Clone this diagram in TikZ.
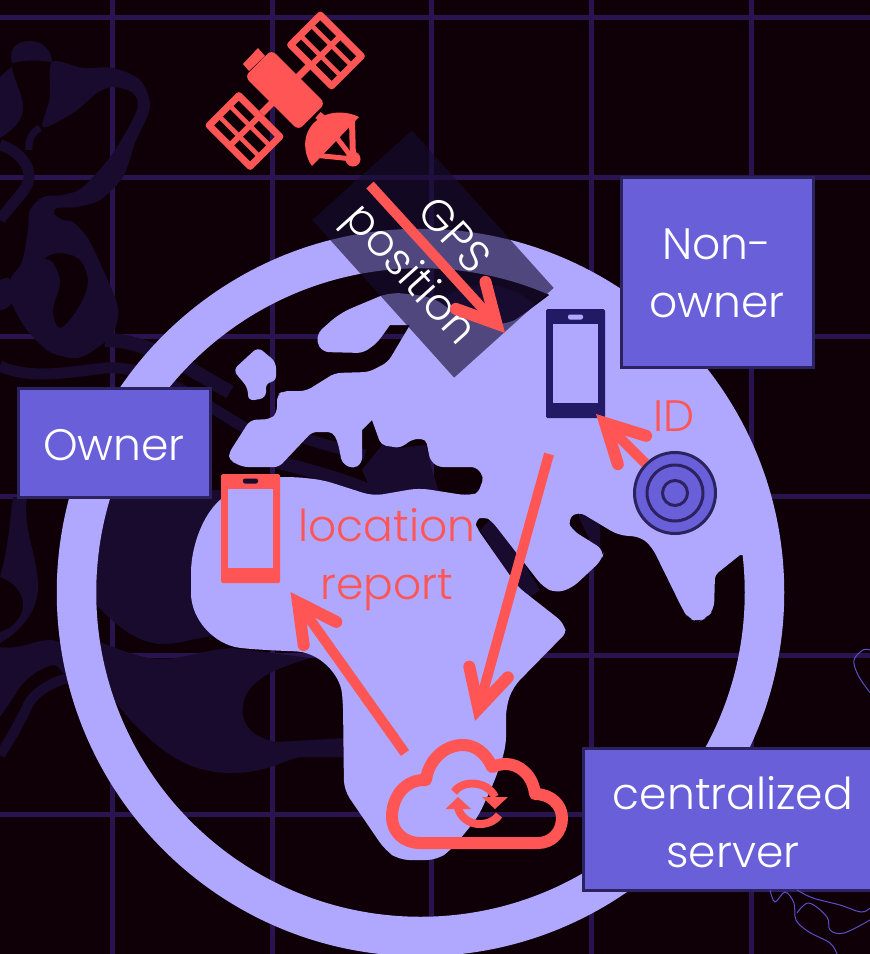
\documentclass[tikz,border=0pt]{standalone}
\usepackage{fontspec}
\setmainfont{Poppins}[UprightFont=* Light]
\usepackage{tikz}
\usetikzlibrary{arrows.meta}

\definecolor{nightbg}{HTML}{0F0008}
\definecolor{gridline}{HTML}{2A144F}
\definecolor{blobdark}{HTML}{190B2E}
\definecolor{landcol}{HTML}{B0A8FF}
\definecolor{coral}{HTML}{FF5555}
\definecolor{boxfill}{HTML}{695FD9}
\definecolor{boxedge}{HTML}{2C2260}
\definecolor{phoneink}{HTML}{231A66}
\definecolor{wisp}{HTML}{5A4FC8}
\definecolor{bandcol}{HTML}{170D31}

\begin{document}
\begin{tikzpicture}[x=1pt, y=-1pt,
    lbl/.style={font=\fontsize{44}{58}\selectfont, align=center, inner sep=0pt},
    box/.style={lbl, rectangle, draw=boxedge, line width=3pt, fill=boxfill, text=white},
    redtext/.style={lbl, text=coral},
    arrow/.style={draw=coral, line width=10pt, -{Straight Barb[length=38pt, width=40pt, line width=12pt, line cap=round, line join=miter]}},
    phone/.style={rectangle, inner sep=0pt, minimum width=59pt, minimum height=109pt, rounded corners=1.5pt},
    screen/.style={rectangle, inner sep=0pt, fill=landcol, minimum width=45pt, minimum height=79pt},
    slot/.style={rectangle, inner sep=0pt, rounded corners=2pt, minimum width=15pt, minimum height=5pt},
    blob/.style={fill=blobdark},
    wispline/.style={draw=wisp, line width=1pt, smooth, tension=.6},
    sat/.style={coral, line width=7pt, line join=round}]

    \useasboundingbox (0,0) rectangle (870,954);
    \fill[nightbg] (0,0) rectangle (870,954);

    % grid
    \foreach \gx in {112.5,272,431,591,751}
        \draw[gridline, line width=5pt] (\gx,0) -- (\gx,954);
    \foreach \gy in {17,177,336,496,655,814}
        \draw[gridline, line width=5pt] (0,\gy) -- (870,\gy);

    % dark shapes on the left
    \fill[blob, even odd rule] plot[smooth cycle, tension=.5] coordinates {(52,62) (83,68) (113,68) (140,80) (150,107) (135,143) (123,177) (100,200) (77,207) (57,208) (54,214) (63,220) (73,222) (87,237) (100,263) (118,307) (113,333) (97,348) (77,358) (50,352) (27,330) (12,303) (10,280) (22,262) (28,230) (30,210) (43,197) (63,195) (83,187) (113,153) (137,110) (133,93) (113,87) (97,93) (73,113) (43,127) (50,97)}
        plot[smooth cycle, tension=.6] coordinates {(45,258) (60,253) (80,260) (88,283) (77,310) (60,328) (53,310) (60,283) (53,263)};
    \fill[blob] (12,63) .. controls (8,45) and (20,41) .. (30,41) .. controls (42,41) and (52,50) .. (52,62) .. controls (38,60) and (24,60) .. (12,63) -- cycle;
    \fill[blob] (0,77) .. controls (5,72) and (10,68) .. (12,67) .. controls (15,85) and (24,95) .. (23,110) .. controls (22,122) and (10,132) .. (0,138) -- cycle;
    \draw[blobdark, line width=11pt] (0,145) .. controls (18,150) and (30,165) .. (29,178) .. controls (28,190) and (10,205) .. (0,220);
    \draw[blobdark, line width=7pt] (40,128) .. controls (32,132) and (28,140) .. (29,150);
    \fill[blob] (0,280) .. controls (8,278) and (12,270) .. (12,303) .. controls (8,308) and (4,310) .. (0,310) -- cycle;
    \draw[blobdark, line width=14pt] (105,340) .. controls (150,340) and (190,370) .. (230,392);
    \draw[blobdark, line width=11pt] (0,366) .. controls (30,380) and (70,372) .. (105,368) .. controls (150,365) and (190,395) .. (245,428);
    \fill[blob] (13,497) -- (27,497) .. controls (22,530) and (38,555) .. (38,587) .. controls (38,615) and (15,635) .. (0,643) -- (0,632) .. controls (15,628) and (23,615) .. (23,605) .. controls (23,590) and (10,580) .. (0,577) .. controls (8,550) and (10,520) .. (13,497) -- cycle;
    \fill[blob] (0,647) .. controls (20,650) and (35,640) .. (50,640) .. controls (60,640) and (70,648) .. (75,652) -- (75,672) .. controls (60,680) and (62,665) .. (53,665) .. controls (40,668) and (22,680) .. (15,695) -- (0,717) -- cycle;
    \draw[blobdark, line width=10pt] (75,676) .. controls (50,682) and (35,692) .. (28,705) .. controls (20,722) and (10,740) .. (0,755);

    % dark shapes inside the globe
    \fill[blob] (90,490) -- (240,490) -- (240,640) .. controls (215,628) and (190,644) .. (163,644) .. controls (135,644) and (110,620) .. (90,598) -- cycle;
    \fill[blob] (95,640) .. controls (125,652) and (145,659) .. (160,659) .. controls (185,659) and (200,650) .. (233,648) -- (310,658) .. controls (290,665) and (260,672) .. (247,693) .. controls (236,715) and (245,737) .. (277,742) -- (345,738) -- (345,757) -- (300,757) .. controls (285,760) and (265,773) .. (233,773) .. controls (190,773) and (165,755) .. (133,723) .. controls (120,708) and (105,690) .. (95,670) -- cycle;
    \draw[blobdark, line width=13pt] (277,462) .. controls (310,470) and (345,480) .. (375,493);
    \draw[blobdark, line width=11pt] (304,438) .. controls (325,445) and (345,450) .. (365,455);
    \fill[blob] (362,470) -- (382,445) -- (400,448) -- (426,445) -- (432,470) -- (440,495) -- (375,498) -- cycle;
    \fill[blob] (440,300) .. controls (455,290) and (470,285) .. (485,285) .. controls (505,285) and (525,295) .. (537,307) -- (510,330) -- (470,325) -- cycle;
    \fill[blob] (495,515) -- (540,590) -- (525,600) -- (480,530) -- cycle;
    \fill[blob] (578,511) -- (600,525) -- (600,560) -- (580,520) -- cycle;

    % globe
    \draw[landcol, line width=39.5pt] (420.5,592.5) circle[radius=344];
    \fill[landcol, rounded corners=6pt] (233,370) -- (258,347) -- (276,362) -- (276,382) -- (266,382) -- (266,398) -- (248,401) -- (248,388) -- cycle;
    \fill[landcol, rounded corners=6pt]
        (229,453) -- (250,420) -- (271,419) -- (277,413) -- (277,395) -- (283,391) -- (306,391) -- (335,373) -- (369,372) -- (388,362) [sharp corners] -- (410,325) -- (390,325) [rounded corners=6pt] -- (377,343) -- (363,353) -- (323,352) [rounded corners=12pt] -- (313,337) -- (340,313) -- (390,292) -- (433,297) -- (453,312) -- (480,322) -- (507,325) -- (520,317) [sharp corners] -- (552,293) -- (640,330) -- (700,410) -- (745,500) -- (745,555) -- (740,555) [rounded corners=4pt] -- (715,575) [rounded corners=8pt] -- (714,610) -- (706,618) -- (698,622) -- (688,618) -- (683,610) -- (652,547) -- (641,537) -- (618,535) -- (578,511) -- (567,520) -- (572,530) -- (604,550) -- (602,560) -- (572,588) -- (556,593) -- (543,587) -- (491,520) -- (484,516) -- (474,520) -- (476,527) -- (518,587) -- (564,623) [rounded corners=4pt] -- (566,633) [rounded corners=10pt] -- (513,687) -- (506,707) -- (506,747) -- (495,780) -- (478,817) -- (451,850) -- (437,860) -- (399,860) -- (385,850) -- (344,790) -- (343,703) .. controls (340,675) and (320,652) .. (285,651) -- (250,649) .. controls (215,645) and (191,620) .. (191,583) .. controls (191,545) and (205,505) .. (240,488) .. controls (255,480) and (275,477) .. (296,477) -- (323,480) -- (373,496) -- (419,488) -- (470,496) [rounded corners=5pt] -- (478,493) -- (484,477) -- (476,467) -- (438,467) -- (430,460) -- (426,439) -- (413,439) -- (400,448) -- (381,445) [sharp corners] -- (372,420) -- (362,430) [rounded corners=5pt] -- (362,463) -- (353,469) -- (342,463) -- (338,443) -- (333,432) -- (312,432) -- (279,467) -- (243,467) -- (229,460) -- cycle;

    % satellite
    \foreach \px/\py in {326/50.5, 244.5/131} {
        \begin{scope}[shift={(\px,\py)}, rotate=-45]
            \draw[sat] (-29,-21) rectangle (29,21);
            \draw[coral, line width=6pt] (0,-21) -- (0,21);
            \draw[coral, line width=4.5pt] (-29,-7.5) -- (29,-7.5);
            \draw[coral, line width=4.5pt] (-29,7.5) -- (29,7.5);
        \end{scope}
    }
    \begin{scope}[shift={(285,90)}, rotate=-45]
        \fill[coral, rounded corners=6pt] (-38,-19) rectangle (38,19);
        \draw[coral, line width=7pt] (0,-18) -- (0,-33);
        \draw[coral, line width=7pt] (0,18) -- (0,33);
    \end{scope}
    \fill[coral] (258,48) -- (243,64) -- (249,71) -- (265,56) -- cycle;
    \fill[coral] (312,166) .. controls (302,152) and (303,132) .. (315,122) .. controls (325,111) and (345,110) .. (359,117) -- cycle;
    \draw[coral, line width=8pt] (318,115) -- (325,121);
    \draw[coral, line width=5pt] (313,155) -- (353,159);
    \draw[coral, line width=6pt] (352,120) -- (353,159);
    \draw[coral, line width=5pt] (337,138) -- (353,159);
    \fill[coral] (353,159) circle[radius=7.5];

    % band and text
    \node[lbl, rectangle, fill=bandcol, fill opacity=.62, text opacity=1, text=white, rotate=-48, minimum width=212pt, minimum height=134pt, text height=99pt] (gpsband) at (433,254) {GPS\\position};

    % boxes
    \node[box, minimum width=192pt, minimum height=109pt, text height=36pt] (owner) at (114,443) {Owner};
    \node[box, minimum width=192pt, minimum height=190pt, text height=91pt] (nonowner) at (717,272) {Non-\\owner};
    \node[box, minimum width=300pt, minimum height=142pt, text height=97pt] (server) at (733,819) {centralized\\server};

    % phones
    \node[phone, fill=coral] (ownerphone) at (250.5,528.5) {};
    \node[screen] (ownerscreen) at (250.5,528.5) {};
    \node[slot, fill=blobdark] (ownerslot) at (250.5,481) {};
    \node[phone, fill=phoneink] (finderphone) at (575.5,363.5) {};
    \node[screen, minimum height=79pt] (finderscreen) at (575.5,363.5) {};
    \node[slot, fill=landcol] (finderslot) at (575.5,317) {};

    % tag
    \node[circle, draw=boxedge, line width=3pt, fill=boxfill, minimum size=81pt, inner sep=0pt] (tag) at (675,493) {};
    \node[circle, draw=boxedge, line width=3pt, minimum size=56pt, inner sep=0pt] (tagmid) at (tag) {};
    \node[circle, draw=boxedge, line width=3pt, minimum size=25pt, inner sep=0pt] (tagcore) at (tag) {};

    % cloud
    \draw[coral, line width=12pt, line join=round] (420,843) -- (538,843) .. controls (552,843) and (562,832) .. (562,818) .. controls (562,805) and (551,794) .. (535,794) .. controls (533,775) and (519,764) .. (506,764) .. controls (502,764) and (497,765) .. (492,767) .. controls (486,753) and (475,745) .. (463,745) .. controls (443,745) and (428,762) .. (426,780) .. controls (405,779) and (392,797) .. (392,817) .. controls (392,832) and (404,843) .. (420,843) -- cycle;
    \draw[coral, line width=8pt] (454,792) .. controls (462,780) and (487,780) .. (495,797);
    \draw[coral, line width=8pt] (458,808) .. controls (464,828) and (490,828) .. (499,815);
    \fill[coral] (482,797) -- (508,797) -- (495,809) -- cycle;
    \fill[coral] (445.5,809) -- (471,809) -- (458,797) -- cycle;

    % labels
    \node[redtext] (idlabel) at (674,416) {ID};
    \node[redtext] (reportlabel) at (387,559.5) {location\\report};

    % arrows
    \coordinate (gpsstart) at (370,185);
    \coordinate (gpstip) at (505,333);
    \coordinate (idtip) at (596,414);
    \coordinate (uploadstart) at (549,454);
    \coordinate (uploadtip) at (475,721);
    \coordinate (reportstart) at (405,753);
    \coordinate (reporttip) at (290.5,592);
    \draw[arrow] (gpsstart) -- (gpstip);
    \draw[arrow] (tag) -- (idtip);
    \draw[arrow] (uploadstart) -- (uploadtip);
    \draw[arrow] (reportstart) -- (reporttip);

    % thin lines on the right
    \draw[wispline] plot coordinates {(870,650) (863,650) (854,660) (858,675) (868,690) (870,692)};
    \draw[wispline] plot coordinates {(770,890) (775,902) (785,892) (794,903) (796,920) (809,932) (830,943) (837,954)};
    \draw[wispline] plot coordinates {(797,890) (813,898) (840,905) (861,912) (870,908)};
    \draw[wispline] plot coordinates {(797,913) (809,903) (827,917) (830,930) (844,933) (870,920)};
\end{tikzpicture}
\end{document}
